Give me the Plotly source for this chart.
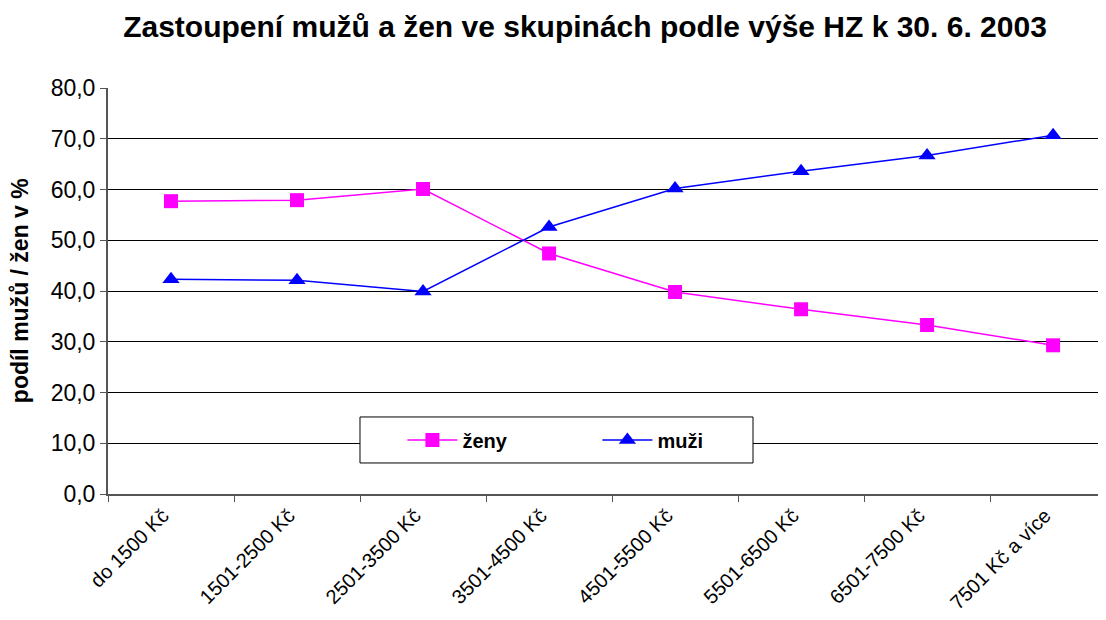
import plotly.graph_objects as go

categories = [
    "do 1500 Kč",
    "1501-2500 Kč",
    "2501-3500 Kč",
    "3501-4500 Kč",
    "4501-5500 Kč",
    "5501-6500 Kč",
    "6501-7500 Kč",
    "7501 Kč a více",
]
zeny = [57.7, 57.9, 60.1, 47.4, 39.8, 36.4, 33.3, 29.3]
muzi = [42.3, 42.1, 39.9, 52.6, 60.2, 63.6, 66.7, 70.7]

font_family = "Arial, Liberation Sans, sans-serif"

fig = go.Figure()

fig.add_trace(
    go.Scatter(
        x=categories,
        y=zeny,
        name="ženy",
        mode="lines+markers",
        line=dict(color="#FF00FF", width=1.5),
        marker=dict(symbol="square", size=14, color="#FF00FF"),
    )
)
fig.add_trace(
    go.Scatter(
        x=categories,
        y=muzi,
        name="muži",
        mode="lines+markers",
        line=dict(color="#0000FF", width=1.5),
        marker=dict(symbol="triangle-up", size=15, color="#0000FF"),
    )
)

# legend frame drawn as a shape so the entries can sit inside with padding
fig.add_shape(
    type="rect",
    xref="paper",
    yref="paper",
    x0=0.2525,
    x1=0.6463,
    y0=0.0764,
    y1=0.1897,
    line=dict(color="black", width=1),
    fillcolor="white",
    layer="above",
)

# y axis title as an annotation, further left than plotly would put it
fig.add_annotation(
    text="<b>podíl mužů / žen v %</b>",
    xref="paper",
    yref="paper",
    x=-0.0882,
    y=0.502,
    xanchor="center",
    yanchor="middle",
    textangle=-90,
    showarrow=False,
    font=dict(size=23, family=font_family, color="black"),
)

# page body has an 8px margin, so the figure is a bit smaller than the window
fig.update_layout(
    width=1098,
    height=612,
    margin=dict(l=100, r=0, t=80, b=126),
    paper_bgcolor="white",
    plot_bgcolor="white",
    separators=", ",
    font=dict(family=font_family, size=21, color="black"),
    title=dict(
        text="<b>Zastoupení mužů a žen ve skupinách podle výše HZ k 30. 6. 2003</b>",
        x=0.5255,
        xanchor="center",
        y=0.969,
        yanchor="middle",
        font=dict(size=30, family=font_family, color="black"),
    ),
    showlegend=True,
    legend=dict(
        orientation="h",
        x=0.295,
        y=0.133,
        xanchor="left",
        yanchor="middle",
        bgcolor="rgba(0,0,0,0)",
        borderwidth=0,
        font=dict(size=20, family=font_family, color="black", weight="bold"),
        entrywidth=130,
        itemwidth=50,
    ),
)

fig.update_xaxes(
    type="category",
    range=[-0.5, 7.42],
    tickson="boundaries",
    ticks="outside",
    ticklen=6,
    tickcolor="#555555",
    tickangle=-45,
    tickfont=dict(size=20),
    ticklabelshift=-8,
    showline=True,
    linecolor="#555555",
    linewidth=2,
    showgrid=False,
)
fig.update_yaxes(
    range=[0, 80],
    dtick=10,
    tickformat=".1f",
    ticks="outside",
    ticklen=6,
    tickcolor="#555555",
    tickfont=dict(size=23),
    showline=True,
    linecolor="#555555",
    linewidth=2,
    showgrid=True,
    gridcolor="black",
    gridwidth=1,
    zeroline=False,
)

fig.write_html("out.html")
